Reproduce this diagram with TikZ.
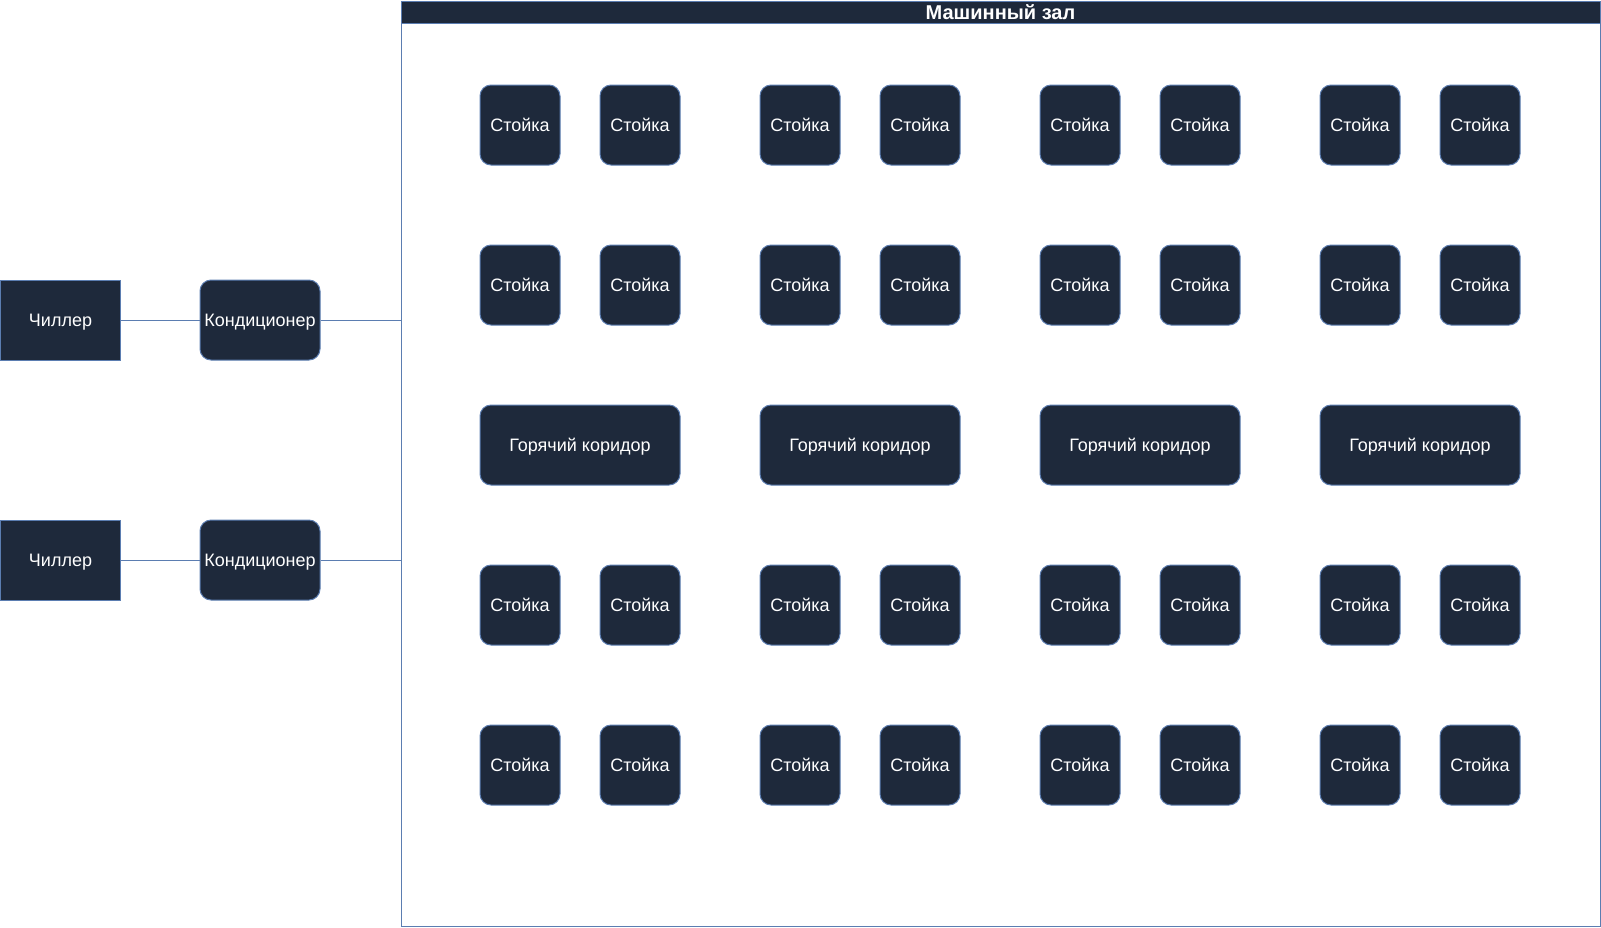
\documentclass[tikz,border=0pt]{standalone}
\usepackage{fontspec}
\setmainfont{Liberation Sans}
\definecolor{boxfill}{HTML}{1E293B}
\definecolor{boxline}{HTML}{5B7DB1}
\tikzset{
  rack/.style={draw=boxline, fill=boxfill, rounded corners=11pt, minimum width=80pt, minimum height=80pt, text=white, font=\fontsize{18}{21}\selectfont, inner sep=0pt, line width=1pt, text depth=0pt},
  corridor/.style={rack, minimum width=200pt},
  chiller/.style={rack, rounded corners=0pt, minimum width=120pt},
  cond/.style={rack, minimum width=120pt},
  link/.style={draw=boxline, line width=1pt},
  hallbox/.style={draw=boxline, line width=1pt, inner sep=0pt, anchor=north west},
  titlebar/.style={draw=boxline, fill=boxfill, line width=1pt, inner sep=0pt, anchor=north west, text=white, font=\fontsize{20}{22}\selectfont\bfseries}
}
\begin{document}
\begin{tikzpicture}[x=1pt,y=-1pt]
\useasboundingbox (0,0) rectangle (1601,927);
\node[hallbox, minimum width=1199pt, minimum height=925pt] (hall) at (400.5,0.5) {};
\node[titlebar, minimum width=1199pt, minimum height=22.5pt] (title) at (400.5,0.5) {Машинный зал};
\foreach \cx [count=\i] in {520,640,800,920,1080,1200,1360,1480}{
  \foreach \cy [count=\j] in {125,285,605,765}{
    \node[rack] (r-\i-\j) at (\cx,\cy) {Стойка};
  }
}
\foreach \cx [count=\i] in {580,860,1140,1420}{
  \node[corridor] (hc-\i) at (\cx,445) {Горячий коридор};
}
\node[chiller] (ch1) at (60.5,320) {Чиллер};
\node[chiller] (ch2) at (60.5,560) {Чиллер};
\node[cond] (ac1) at (260,320) {Кондиционер};
\node[cond] (ac2) at (260,560) {Кондиционер};
\draw[link] (ch1.east) -- (ac1.west);
\draw[link] (ch2.east) -- (ac2.west);
\draw[link] (ac1.east) -- (ac1.east -| hall.west);
\draw[link] (ac2.east) -- (ac2.east -| hall.west);
\end{tikzpicture}
\end{document}
